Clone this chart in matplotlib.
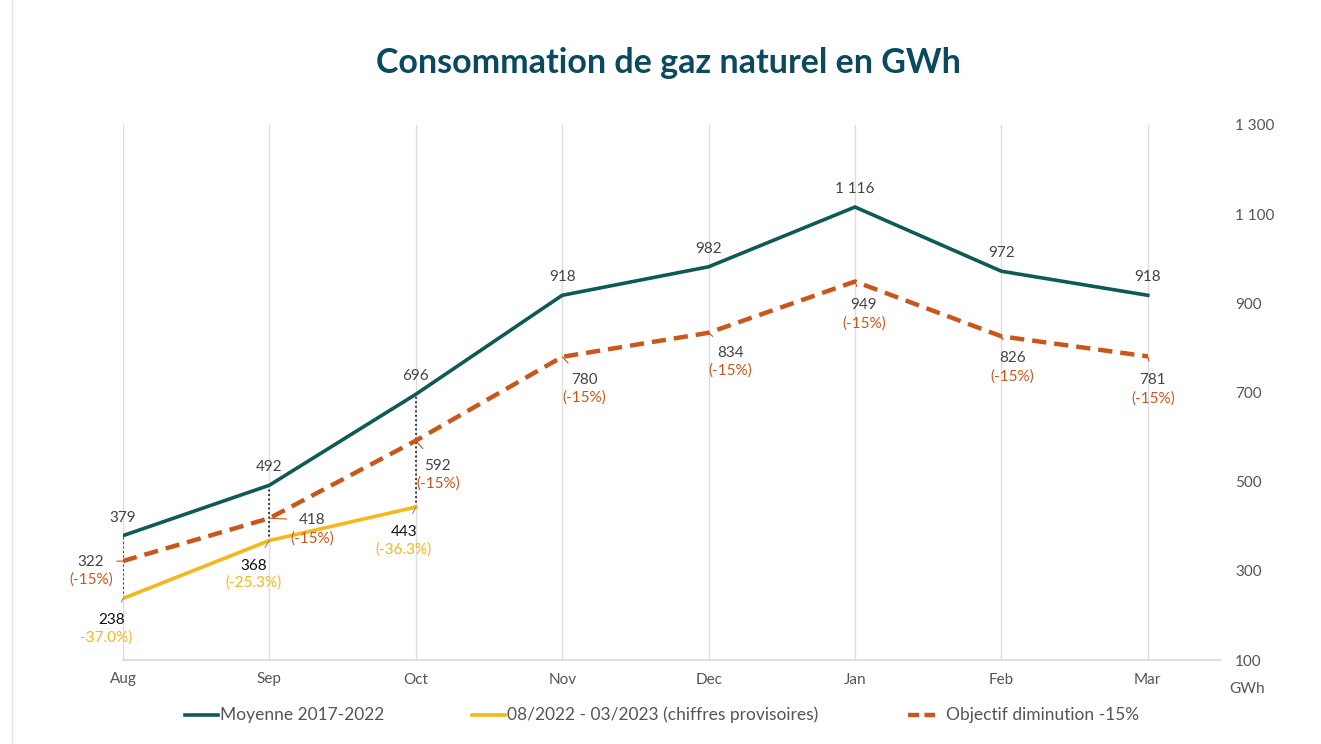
import matplotlib.pyplot as plt
from matplotlib.lines import Line2D

months = ["Aug", "Sep", "Oct", "Nov", "Dec", "Jan", "Feb", "Mar"]
moyenne = [379, 492, 696, 918, 982, 1116, 972, 918]
objectif = [322, 418, 592, 780, 834, 949, 826, 781]
actuel = [238, 368, 443]
actuel_pct = ["-37.0%)", "(-25.3%)", "(-36.3%)"]
yticks = [100, 300, 500, 700, 900, 1100, 1300]

TEAL = "#0e5a55"
YELLOW = "#f4b71c"
ORANGE = "#c9561a"
GREY = "#555555"
TITLE = "#0b4a5e"


def fmt(v):
    return f"{v:,}".replace(",", " ")


plt.rcParams['font.family'] = ['Lato', 'DejaVu Sans']

W, H = 1321, 744
fig = plt.figure(figsize=(W / 100, H / 100), dpi=100)
ax = fig.add_axes([123 / W, 1 - 660 / H, (1221 - 123) / W, (660 - 125) / H])

x = list(range(len(months)))
ax.set_xlim(0, 7.5)
ax.set_ylim(100, 1300)

# vertical grid at each month
for xi in x:
    ax.axvline(xi, color="#dddddd", lw=1, zorder=0)
for s in ["top", "left", "right"]:
    ax.spines[s].set_visible(False)
ax.spines["bottom"].set_color("#d9d9d9")
ax.spines["bottom"].set_linewidth(1.2)

ax.yaxis.tick_right()
ax.set_yticks(yticks)
ax.set_yticklabels([fmt(v) for v in yticks], fontsize=11, color=GREY)
ax.tick_params(axis="y", length=0, pad=10)
ax.set_xticks(x)
ax.set_xticklabels(months, fontsize=11, color=GREY)
ax.tick_params(axis="x", length=0, pad=9)
for lab in ax.get_yticklabels():
    lab.set_horizontalalignment("left")
ax.text(1.0 + 26 / 1098, -0.055, "GWh", transform=ax.transAxes, fontsize=11,
        color=GREY, ha="center", va="center")

# dotted connectors between actual and average
for i, v in enumerate(actuel):
    ax.plot([i, i], [v, moyenne[i]], color="#222222", lw=1.3, ls=(0, (1, 1.5)), zorder=2)

ax.plot(x, moyenne, color=TEAL, lw=2.6, zorder=4, solid_joinstyle="miter")
ax.plot(x, objectif, color=ORANGE, lw=3.2, ls=(0, (3.2, 1.8)), zorder=4)
ax.plot(range(len(actuel)), actuel, color=YELLOW, lw=2.6, zorder=3)

# average labels above points
for i, v in enumerate(moyenne):
    ax.annotate(fmt(v), (i, v), xytext=(0, 18), textcoords="offset pixels",
                ha="center", va="center", fontsize=11, color="#444444")

# objective labels (value + percent), pixel offsets from the point
obj_off = [(-32, -1), (43, -2), (22, -25), (22, -23), (22, -20), (9, -24), (11, -22), (5, -24)]
for i, v in enumerate(objectif):
    dx, dy = obj_off[i]
    ax.annotate(fmt(v), (i, v), xytext=(dx, dy), textcoords="offset pixels",
                ha="center", va="center", fontsize=11, color="#444444",
                arrowprops=dict(arrowstyle="-", color=ORANGE, lw=0.8, shrinkA=7, shrinkB=0))
    ax.annotate("(-15%)", (i, v), xytext=(dx, dy - 18), textcoords="offset pixels",
                ha="center", va="center", fontsize=11, color=ORANGE)

# actual labels
act_off = [(-11, -22), (-16, -25), (-12, -25)]
for i, v in enumerate(actuel):
    dx, dy = act_off[i]
    ax.annotate(fmt(v), (i, v), xytext=(dx, dy), textcoords="offset pixels",
                ha="center", va="center", fontsize=11, color="#111111",
                arrowprops=dict(arrowstyle="-", color="#888888", lw=0.8, shrinkA=7, shrinkB=0))
    ax.annotate(actuel_pct[i], (i, v), xytext=(dx - (6 if i == 0 else 0), dy - 17),
                textcoords="offset pixels", ha="center", va="center",
                fontsize=11, color=YELLOW)

fig.text(0.506, 1 - 63 / H, "Consommation de gaz naturel en GWh", ha="center",
         va="center", fontsize=24.5, fontweight="bold", color=TITLE)

# legend, laid out by hand to match the spacing of the original
ly = 1 - 715 / H
legend_items = [
    (185, 218, dict(color=TEAL, lw=2.6), 220, "Moyenne 2017-2022"),
    (472, 505, dict(color=YELLOW, lw=2.6), 507, "08/2022 - 03/2023 (chiffres provisoires)"),
    (908, 935, dict(color=ORANGE, lw=3.2, ls=(0, (2.5, 1.2))), 946, "Objectif diminution -15%"),
]
for x0, x1, style, tx, label in legend_items:
    fig.add_artist(Line2D([x0 / W, x1 / W], [ly, ly], **style))
    fig.text(tx / W, ly, label, ha="left", va="center", fontsize=12.5, color=GREY)

fig.add_artist(Line2D([12 / W, 12 / W], [0, 1], color="#e6e6e6", lw=1))

fig.savefig("out.png", dpi=100)
